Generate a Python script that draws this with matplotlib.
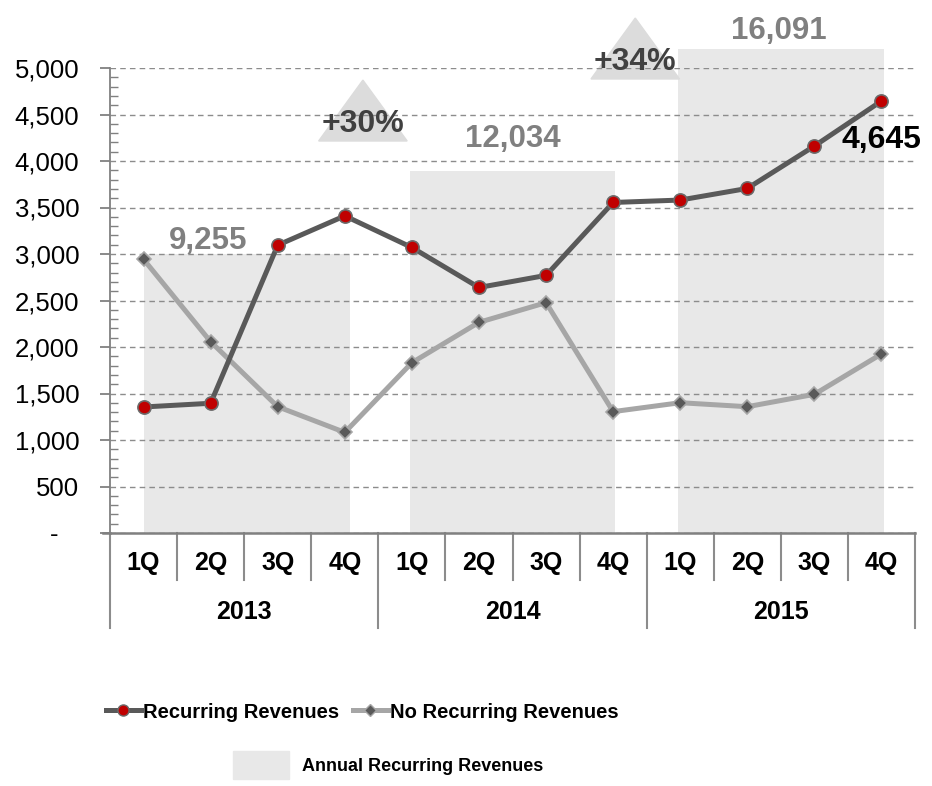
import matplotlib.pyplot as plt
from matplotlib.lines import Line2D
from matplotlib.patches import Patch, Polygon

plt.rcParams['font.family'] = ['Liberation Sans', 'DejaVu Sans']

# données
years = ["2013", "2014", "2015"]
quarters = ["1Q", "2Q", "3Q", "4Q"]
recurring = [1355, 1395, 3095, 3410, 3070, 2640, 2770, 3554, 3580, 3705, 4161, 4645]
no_recurring = [2943, 2057, 1358, 1082, 1831, 2265, 2477, 1305, 1401, 1358, 1491, 1925]
annual = [9255, 12034, 16091]

fig = plt.figure(figsize=(9.32, 7.86), dpi=100)
ax = fig.add_axes([110 / 932, 253 / 786, 805 / 932, 465 / 786])
ax2 = ax.twinx()
ax.set_zorder(2)
ax.patch.set_visible(False)
ax2.set_zorder(1)

x = list(range(12))
xc = [1.5, 5.5, 9.5]

# barres annuelles (axe secondaire)
ax2.bar([xc[0] + 0.04, xc[1], xc[2]], annual, width=3.07, color="#e8e8e8", clip_on=False)
ax2.set_ylim(0, 15450)
ax2.axis("off")
lab_dx = [-0.54, 0, -0.03]
lab_dy = [-1, 12, 2]
for xi, v, dx, dy in zip(xc, annual, lab_dx, lab_dy):
    ax2.annotate(f"{v:,}", (xi + dx, v), xytext=(0, dy), textcoords="offset points",
                 ha="center", va="bottom", fontsize=22.5, fontweight="bold",
                 color="#808080", annotation_clip=False)

# triangles de croissance
for i, (x0, yb) in enumerate([(3.27, 4215), (7.33, 4882)]):
    g = annual[i + 1] / annual[i] - 1
    tri = Polygon([[x0 - 0.66, yb], [x0 + 0.66, yb], [x0, yb + 655]], closed=True,
                  color="#dcdcdc", clip_on=False, zorder=1)
    ax.add_patch(tri)
    ax.text(x0, yb + 180, f"+{g:.0%}", ha="center", va="center", fontsize=23,
            fontweight="bold", color="#404040", zorder=3, clip_on=False)

# lignes
ax.plot(x, no_recurring, color="#a6a6a6", lw=3.6, marker="D", ms=7,
        mfc="#595959", mec="#a6a6a6", mew=1.2, zorder=4, label="No Recurring Revenues")
ax.plot(x, recurring, color="#595959", lw=3.6, marker="o", ms=9.5,
        mfc="#c00000", mec="#6b6b6b", mew=1.2, zorder=5, label="Recurring Revenues")
ax.annotate(f"{recurring[-1]:,}", (x[-1], recurring[-1]), xytext=(0, -28),
            textcoords="offset points", ha="center", va="center", fontsize=23,
            fontweight="bold", color="black", annotation_clip=False, zorder=6)

ax.set_xlim(-0.5, 11.5)
ax.set_ylim(0, 5000)
ax.set_yticks(range(0, 5001, 500))
ax.set_yticklabels(["-   "] + [f"{v:,}" for v in range(500, 5001, 500)], fontsize=18.5)
ax.set_yticks(range(0, 5001, 100), minor=True)
ax.tick_params(axis="y", which="major", direction="out", length=7, width=1.3,
               color="#808080", pad=15)
ax.tick_params(axis="y", which="minor", direction="in", length=6, width=1,
               color="#808080")
ax.grid(axis="y", linestyle=(0, (4, 3)), color="#8c8c8c", lw=1)
for s in ["top", "right"]:
    ax.spines[s].set_visible(False)
ax.spines["left"].set_color("#808080")
ax.spines["left"].set_linewidth(1.3)
ax.spines["bottom"].set_color("#808080")
ax.spines["bottom"].set_linewidth(1.8)

# axe x à deux niveaux
ax.set_xticks([])
tr = ax.get_xaxis_transform()
for i in x:
    ax.text(i, -0.0645, quarters[i % 4], transform=tr, ha="center", va="center",
            fontsize=18, fontweight="bold")
for j, yr in enumerate(years):
    ax.text(xc[j], -0.170, yr, transform=tr, ha="center", va="center",
            fontsize=18, fontweight="bold")
for k in range(13):
    xb = k - 0.5
    y1 = -0.204 if k % 4 == 0 else -0.101
    ax.plot([xb, xb], [0, y1], transform=tr, color="#8c8c8c", lw=1.5, clip_on=False)
ax.plot([-0.6, -0.5], [0, 0], transform=tr, color="#808080", lw=1.8, clip_on=False)

# légende
s1, s2 = 14.5, 13
h1 = Line2D([], [], color="#595959", lw=3.6, marker="o", ms=8, mfc="#c00000", mec="#6b6b6b")
h2 = Line2D([], [], color="#a6a6a6", lw=3.6, marker="D", ms=6, mfc="#595959", mec="#a6a6a6")
leg1 = fig.legend([h1, h2], ["Recurring Revenues", "No Recurring Revenues"],
                  loc="center", bbox_to_anchor=(362 / 932, 1 - 712 / 786), ncol=2,
                  frameon=False, borderpad=0, borderaxespad=0,
                  handlelength=35 / (s1 * 1.389), handletextpad=2 / (s1 * 1.389),
                  columnspacing=14 / (s1 * 1.389),
                  prop={"size": s1, "weight": "bold"})
leg2 = fig.legend([Patch(color="#e8e8e8")], ["Annual Recurring Revenues"],
                  loc="center", bbox_to_anchor=(388 / 932, 1 - 765 / 786), frameon=False,
                  borderpad=0, borderaxespad=0,
                  handlelength=56 / (s2 * 1.389), handleheight=35 / (s2 * 1.389),
                  handletextpad=13 / (s2 * 1.389),
                  prop={"size": s2, "weight": "bold"})

plt.savefig("out.png", dpi=100)
